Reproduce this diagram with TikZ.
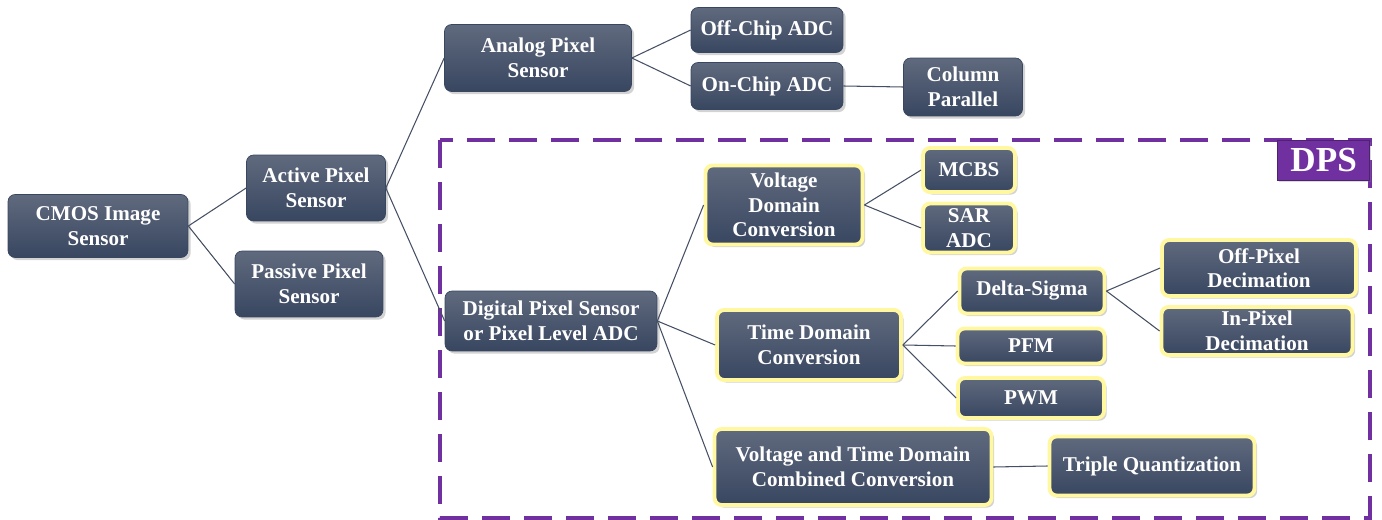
\documentclass[tikz,border=0pt]{standalone}
\usepackage{fontspec}
\setmainfont{Liberation Serif}
\usetikzlibrary{shadows}
\definecolor{boxtop}{RGB}{96,106,126}
\definecolor{boxbot}{RGB}{56,70,96}
\definecolor{linkgray}{RGB}{70,80,100}
\definecolor{dpspurple}{RGB}{112,48,160}
\definecolor{glow}{RGB}{255,248,160}
\begin{document}
\begin{tikzpicture}[x=0.02cm, y=-0.02cm]
    \tikzstyle{block}=[rectangle,rounded corners=4pt,top color=boxtop,bottom color=boxbot,draw=boxbot,
      text=white,align=center,inner sep=0pt,font=\bfseries\fontsize{12}{14}\selectfont,
      drop shadow={opacity=0.35,shadow xshift=1.5pt,shadow yshift=-1.5pt}]
    \tikzstyle{dpsblock}=[block,draw=glow,line width=2.2pt]
    \tikzstyle{link}=[draw=linkgray,line width=0.6pt]
    \useasboundingbox (0,0) rectangle (1382,520);
    % outer tree
    \node[block,minimum width=3.6cm,minimum height=1.26cm] (cmos) at (98,226) {CMOS Image\\Sensor};
    \node[block,minimum width=2.78cm,minimum height=1.32cm] (active) at (316,188) {Active Pixel\\Sensor};
    \node[block,minimum width=2.96cm,minimum height=1.32cm] (passive) at (309,284) {Passive Pixel\\Sensor};
    \node[block,minimum width=3.74cm,minimum height=1.34cm] (analog) at (538,58) {Analog Pixel\\Sensor};
    \node[block,minimum width=3.04cm,minimum height=0.9cm] (offchip) at (767,30) {Off-Chip ADC};
    \node[block,minimum width=3.04cm,minimum height=0.94cm] (onchip) at (767,86) {On-Chip ADC};
    \node[block,minimum width=2.38cm,minimum height=1.16cm] (column) at (963,87) {Column\\Parallel};
    \node[block,minimum width=4.24cm,minimum height=1.2cm] (digital) at (551,321) {Digital Pixel Sensor\\or Pixel Level ADC};
    % DPS frame
    \draw[dpspurple,line width=1.8pt,dash pattern=on 0.56cm off 0.28cm] (440,140) rectangle (1370,518);
    \node[fill=dpspurple,draw=dpspurple!70!black,text=white,inner sep=0pt,minimum width=1.84cm,minimum height=0.8cm,
      anchor=north east,font=\bfseries\fontsize{20}{22}\selectfont,drop shadow={opacity=0.3,shadow xshift=1pt,shadow yshift=-1pt}]
      (dps) at (1370,140) {DPS};
    % inside DPS
    \node[dpsblock,minimum width=3.14cm,minimum height=1.58cm] (voltage) at (784,205) {Voltage\\Domain\\Conversion};
    \node[dpsblock,minimum width=1.84cm,minimum height=0.88cm] (mcbs) at (969,170) {MCBS};
    \node[dpsblock,minimum width=1.84cm,minimum height=0.98cm] (sar) at (969,228) {SAR\\ADC};
    \node[dpsblock,minimum width=3.68cm,minimum height=1.4cm] (time) at (809,345) {Time Domain\\Conversion};
    \node[dpsblock,minimum width=2.9cm,minimum height=0.9cm] (delta) at (1032,291) {Delta-Sigma};
    \node[dpsblock,minimum width=2.94cm,minimum height=0.7cm] (pfm) at (1031,346) {PFM};
    \node[dpsblock,minimum width=2.92cm,minimum height=0.8cm] (pwm) at (1031,398) {PWM};
    \node[dpsblock,minimum width=3.88cm,minimum height=1.12cm] (offpix) at (1259,268) {Off-Pixel\\Decimation};
    \node[dpsblock,minimum width=3.82cm,minimum height=0.96cm] (inpix) at (1257,331) {In-Pixel\\Decimation};
    \node[dpsblock,minimum width=5.54cm,minimum height=1.52cm] (combined) at (853,467) {Voltage and Time Domain\\Combined Conversion};
    \node[dpsblock,minimum width=4.1cm,minimum height=1.18cm] (triple) at (1152,466) {Triple Quantization};
    % connectors
    \path[link](cmos.east)edge(active.west);
    \path[link](cmos.east)edge(passive.west);
    \path[link](active.east)edge(analog.west);
    \path[link](active.east)edge(digital.west);
    \path[link](analog.east)edge(offchip.west);
    \path[link](analog.east)edge(onchip.west);
    \path[link](onchip.east)edge(column.west);
    \path[link](digital.east)edge(voltage.west);
    \path[link](digital.east)edge(time.west);
    \path[link](digital.east)edge(combined.west);
    \path[link](voltage.east)edge(mcbs.west);
    \path[link](voltage.east)edge(sar.west);
    \path[link](time.east)edge(delta.west);
    \path[link](time.east)edge(pfm.west);
    \path[link](time.east)edge(pwm.west);
    \path[link](delta.east)edge(offpix.west);
    \path[link](delta.east)edge(inpix.west);
    \path[link](combined.east)edge(triple.west);
\end{tikzpicture}
\end{document}
